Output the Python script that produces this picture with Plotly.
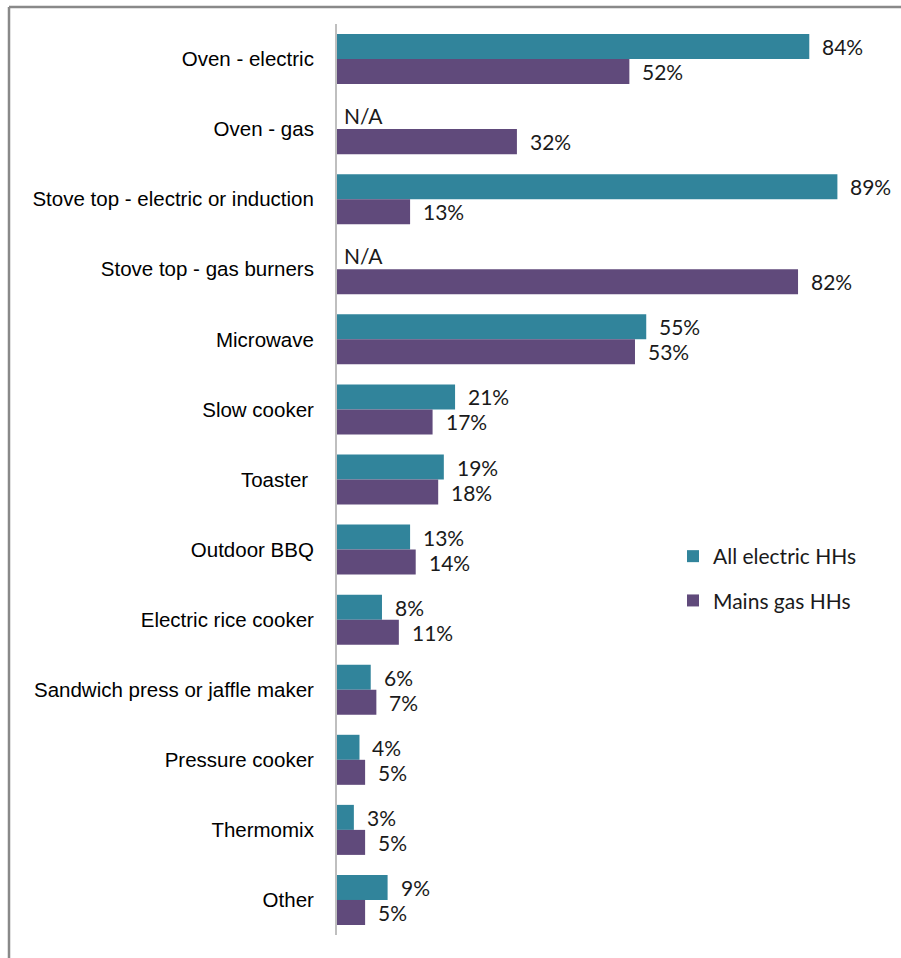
import plotly.graph_objects as go

# Cooking appliance use, by household fuel type (% of households)
categories = [
    "Oven - electric",
    "Oven - gas",
    "Stove top - electric or induction",
    "Stove top - gas burners",
    "Microwave",
    "Slow cooker",
    "Toaster ",
    "Outdoor BBQ",
    "Electric rice cooker",
    "Sandwich press or jaffle maker",
    "Pressure cooker",
    "Thermomix",
    "Other",
]
all_electric = [84, None, 89, None, 55, 21, 19, 13, 8, 6, 4, 3, 9]
mains_gas = [52, 32, 13, 82, 53, 17, 18, 14, 11, 7, 5, 5, 5]
series_names = ["All electric HHs", "Mains gas HHs"]

TEAL = "#31849B"
PURPLE = "#604A7B"
LABEL_FONT = dict(family="Lato, Open Sans, sans-serif", size=21, color="#1a1a1a")

W, H = 901, 958
M_L, M_R, M_T, M_B = 337, 4, 24, 23

fig = go.Figure()
fig.add_trace(go.Bar(
    y=categories, x=all_electric, orientation="h", name=series_names[0],
    marker=dict(color=TEAL, line=dict(width=0)), legendgroup="a",
    hoverinfo="x+y",
))
fig.add_trace(go.Bar(
    y=categories, x=mains_gas, orientation="h", name=series_names[1],
    marker=dict(color=PURPLE, line=dict(width=0)), legendgroup="b",
    hoverinfo="x+y",
))

# value labels beside each bar; N/A where a series has no value
annotations = []
for series, shift in ((all_electric, 12.5), (mains_gas, -12.5)):
    for cat, v in zip(categories, series):
        if v is None:
            annotations.append(dict(
                x=0, y=cat, xref="x", yref="y", text="N/A", showarrow=False,
                xanchor="left", yanchor="middle", xshift=5, yshift=shift + 1,
                font=LABEL_FONT,
            ))
        else:
            annotations.append(dict(
                x=v, y=cat, xref="x", yref="y", text=f"{v}%", showarrow=False,
                xanchor="left", yanchor="middle", xshift=11, yshift=shift,
                font=LABEL_FONT,
            ))

# frame lines along the top and left edge
shapes = [
    dict(type="line", xref="paper", yref="paper", x0=(9 - M_L) / (W - M_L - M_R),
         x1=1.2, y0=1 + (M_T - 7) / (H - M_T - M_B), y1=1 + (M_T - 7) / (H - M_T - M_B),
         line=dict(color="#898989", width=2.5)),
    dict(type="line", xref="paper", yref="paper", x0=(9 - M_L) / (W - M_L - M_R),
         x1=(9 - M_L) / (W - M_L - M_R), y0=-0.1, y1=1 + (M_T - 7) / (H - M_T - M_B),
         line=dict(color="#898989", width=2.5)),
]

fig.update_layout(
    width=W, height=H,
    margin=dict(l=M_L, r=M_R, t=M_T, b=M_B),
    paper_bgcolor="white", plot_bgcolor="white",
    barmode="group", bargap=0.286, bargroupgap=0,
    xaxis=dict(range=[0, 99.6], visible=False, fixedrange=True),
    yaxis=dict(
        autorange="reversed", showline=True, linecolor="#BFBFBF", linewidth=2,
        ticks="", showgrid=False, zeroline=False, ticklabelstandoff=17,
        tickfont=dict(family="Liberation Sans, Arial", size=20.5, color="#000000"),
    ),
    legend=dict(
        x=(673 - M_L) / (W - M_L - M_R), y=1 - (536 - M_T) / (H - M_T - M_B),
        xanchor="left", yanchor="top", traceorder="grouped", tracegroupgap=14,
        font=dict(family="Lato, Open Sans, sans-serif", size=21, color="#1a1a1a"),
        bgcolor="rgba(0,0,0,0)",
    ),
    annotations=annotations,
    shapes=shapes,
    showlegend=True,
)

fig.write_html("out.html")
